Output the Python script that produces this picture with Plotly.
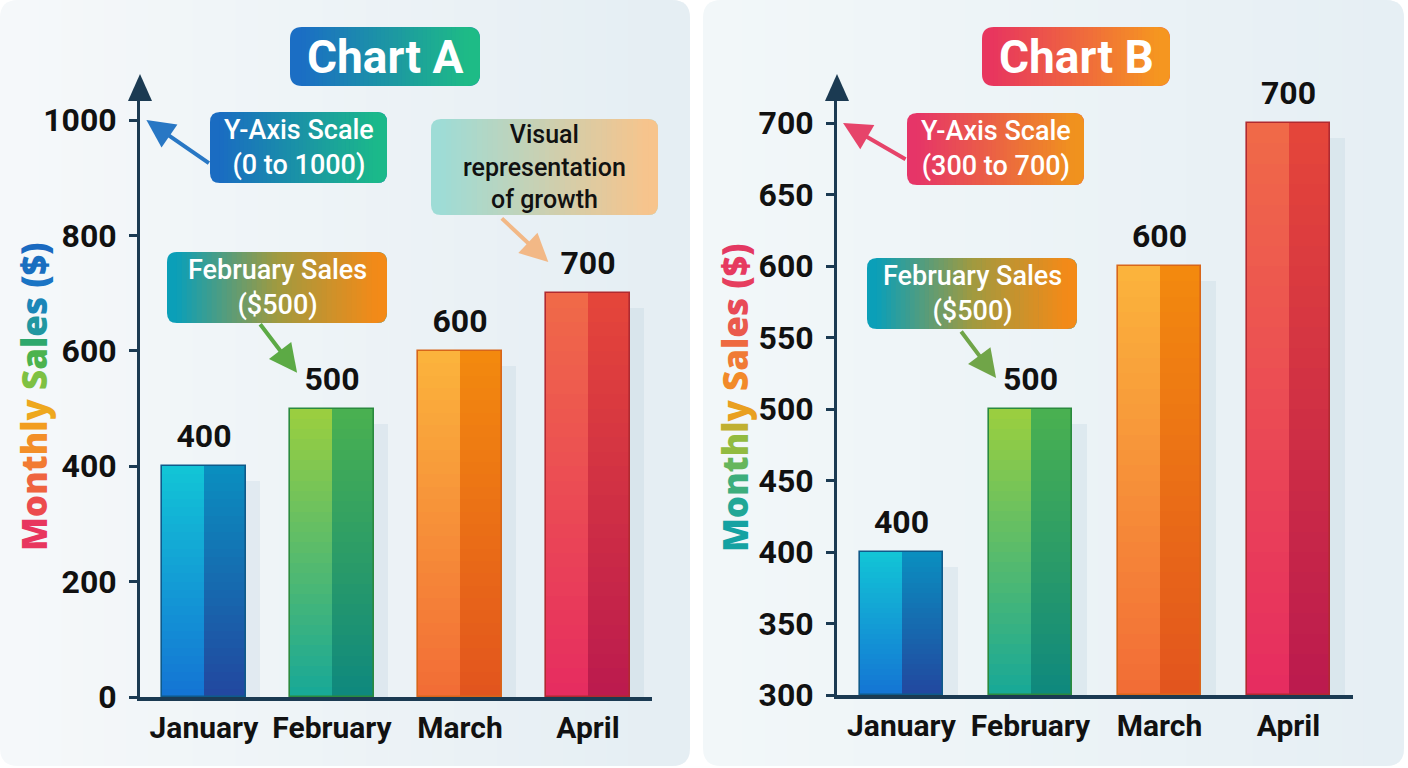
import plotly.graph_objects as go

# ---------------- data ----------------
months = ["January", "February", "March", "April"]
sales_a = [400, 500, 600, 700]
sales_b = [400, 500, 600, 700]
yticks_a = [0, 200, 400, 600, 800, 1000]
yticks_b = [300, 350, 400, 450, 500, 550, 600, 650, 700]

# bar colours (left lit half / right shaded half, top -> bottom)
left_top = ["#12c5d6", "#9ccf3e", "#fbb43c", "#f06a48"]
left_bot = ["#1474d4", "#17a898", "#f26c36", "#e62c60"]
right_top = ["#0a8fc0", "#4ab150", "#f38a0e", "#e5463a"]
right_bot = ["#22479f", "#0e887e", "#e2541e", "#bb1a4e"]
edge_col = ["#0f5a8a", "#2a8a3e", "#d8661a", "#b02a30"]

W, H = 1408, 768
FONT_NUM = "Roboto"


def X(px):
    return px / W


def Y(py):
    return 1 - py / H


def hex2rgb(h):
    h = h.lstrip("#")
    return tuple(int(h[i:i + 2], 16) for i in (0, 2, 4))


def mix(c1, c2, t):
    a, b = hex2rgb(c1), hex2rgb(c2)
    return "rgb(%d,%d,%d)" % tuple(round(a[i] + (b[i] - a[i]) * t) for i in range(3))


shapes = []
annotations = []


def rrect_path(x0, y0, x1, y1, r):
    rx, ry = r / W, r / H
    a, b, c, d = X(x0), Y(y0), X(x1), Y(y1)  # b top, d bottom
    return (f"M{a+rx},{b} L{c-rx},{b} Q{c},{b} {c},{b-ry} L{c},{d+ry} Q{c},{d} {c-rx},{d} "
            f"L{a+rx},{d} Q{a},{d} {a},{d+ry} L{a},{b-ry} Q{a},{b} {a+rx},{b} Z")


def gradbox(x0, y0, x1, y1, cl, cr, r=10, n=40, layer="above", cm=None):
    shapes.append(dict(type="path", path=rrect_path(x0, y0, x1, y1, r), xref="paper", yref="paper",
                       fillcolor=cl, line=dict(width=0), layer=layer))
    shapes.append(dict(type="path", path=rrect_path(x1 - 2 * r - 2, y0, x1, y1, r), xref="paper", yref="paper",
                       fillcolor=cr, line=dict(width=0), layer=layer))
    sx0, sx1 = x0 + r, x1 - r
    step = (sx1 - sx0) / n
    for i in range(n):
        t = (i + 0.5) / n
        if cm is None:
            col = mix(cl, cr, t)
        else:
            col = mix(cl, cm, t * 2) if t < 0.5 else mix(cm, cr, (t - 0.5) * 2)
        shapes.append(dict(type="rect", xref="paper", yref="paper",
                           x0=X(sx0 + i * step - 0.3), x1=X(sx0 + (i + 1) * step + 0.3),
                           y0=Y(y1), y1=Y(y0), fillcolor=col, line=dict(width=0), layer=layer))


def text_at(px, py, txt, font, angle=0):
    annotations.append(dict(x=X(px), y=Y(py), xref="paper", yref="paper", text=txt, showarrow=False,
                            xanchor="center", yanchor="middle", textangle=angle, font=font))


# panels
gradbox(0, 0, 690, 766, "#f5f8fa", "#e5eef3", r=18, n=30, layer="below")
gradbox(703, 0, 1404, 766, "#f2f7f9", "#e6eff4", r=18, n=30, layer="below")

# ---------------- traces ----------------
fig = go.Figure()
NS = 28
BW = 0.65
HALF = BW / 2


def add_bars(vals, b0, span, xa, ya):
    hs = [v - b0 for v in vals]
    # soft shadow
    fig.add_trace(go.Bar(x=months, y=[h - 0.025 * span for h in hs], base=[b0] * 4,
                         width=0.11, offset=HALF, marker=dict(color="rgba(140,175,200,0.14)", line=dict(width=0)),
                         xaxis=xa, yaxis=ya, showlegend=False, hoverinfo="skip"))
    for half, (tops, bots, off) in enumerate([(left_top, left_bot, -HALF), (right_top, right_bot, 0)]):
        for k in range(NS):
            t = (k + 0.5) / NS
            bases = [b0 + h * k / NS for h in hs]
            ys = [min(h / NS * 1.6, v - bb) for h, v, bb in zip(hs, vals, bases)]
            cols = [mix(bots[i], tops[i], t) for i in range(4)]
            fig.add_trace(go.Bar(x=months, y=ys, base=bases, width=HALF, offset=off,
                                 marker=dict(color=cols, line=dict(width=0)),
                                 xaxis=xa, yaxis=ya, showlegend=False, hoverinfo="skip"))
    # outline
    fig.add_trace(go.Bar(x=months, y=hs, base=[b0] * 4, width=BW, offset=-HALF,
                         marker=dict(color="rgba(0,0,0,0)", line=dict(color=edge_col, width=1.6)),
                         xaxis=xa, yaxis=ya, showlegend=False, hoverinfo="skip"))
    # value labels (invisible marker pads the text upward)
    fig.add_trace(go.Scatter(x=months, y=vals, mode="markers+text", text=[str(v) for v in vals],
                             textposition="top center", cliponaxis=False,
                             marker=dict(size=16, color="rgba(0,0,0,0)"),
                             textfont=dict(family=FONT_NUM, size=32, color="#111111", weight=700),
                             xaxis=xa, yaxis=ya, showlegend=False, hoverinfo="skip"))


add_bars(sales_a, 0, 1040, "x", "y")
add_bars(sales_b, 300, 418, "x2", "y2")

# ---------------- axes ----------------
AXC = "#1b3a52"
tickfont = dict(family=FONT_NUM, size=32, color="#111111", weight=700)
xfont = dict(family=FONT_NUM, size=30, color="#111111", weight=700)

xa_common = dict(type="category", categoryorder="array", categoryarray=months, range=[-0.5, 3.5],
                 showline=True, linecolor=AXC, linewidth=4, ticks="", showgrid=False, zeroline=False,
                 tickfont=xfont, ticklabelstandoff=1, fixedrange=True)
ya_common = dict(showline=True, linecolor=AXC, linewidth=3, ticks="outside", ticklen=8, tickwidth=3,
                 tickcolor=AXC, showgrid=False, zeroline=False, tickfont=tickfont, ticklabelstandoff=6)

fig.update_layout(
    xaxis=dict(domain=[X(140), X(652)], anchor="y", **xa_common),
    yaxis=dict(domain=[Y(697), Y(97)], anchor="x", range=[0, 1040], tickvals=yticks_a, **ya_common),
    xaxis2=dict(domain=[X(837), X(1353)], anchor="y2", **xa_common),
    yaxis2=dict(domain=[Y(695), Y(97)], anchor="x2", range=[300, 718.2], tickvals=yticks_b, **ya_common),
)

# axis-top arrowheads
for cx in (140, 837):
    shapes.append(dict(type="path", xref="paper", yref="paper",
                       path=f"M{X(cx)},{Y(74)} L{X(cx-12)},{Y(101)} L{X(cx+12)},{Y(101)} Z",
                       fillcolor=AXC, line=dict(width=0), layer="above"))

# title boxes
gradbox(290, 27, 480, 86, "#1b6ec4", "#1ebb86", r=12)
text_at(385, 57, "<b>Chart A</b>", dict(family="Roboto", size=46, color="white"))
gradbox(982, 27, 1170, 86, "#e8365e", "#f59620", r=12)
text_at(1076, 57, "<b>Chart B</b>", dict(family="Roboto", size=46, color="white"))


# y titles with per-letter colours
def colored(chars_cols):
    return "".join(f'<span style="color:{c}">{ch}</span>' for ch, c in chars_cols)


title_a = colored(list(zip("Monthly", ["#e8365e", "#ec4b4e", "#ef643f", "#f27b32", "#f38f28", "#f29d20", "#eea81e"]))) \
    + " " + colored(list(zip("Sales", ["#7ec142", "#4cb34e", "#2ea86c", "#2197a0", "#1b86b8"]))) \
    + " " + colored(list(zip("($)", ["#1a74c4", "#1a6fc0", "#1a6ac0"])))
title_b = colored(list(zip("Monthly", ["#15a2a2", "#22a796", "#3dae7c", "#66b65c", "#92bb40", "#c0b030", "#e9a020"]))) \
    + " " + colored(list(zip("Sales", ["#f28a2a", "#f07a36", "#ee6a40", "#ea5a4c", "#e84a56"]))) \
    + " " + colored(list(zip("($)", ["#e63e5e", "#e63a60", "#e33862"])))
yt_font = dict(family="Open Sans", size=35, weight=800)
text_at(33, 397, title_a, yt_font, angle=-90)
text_at(734, 398, title_b, yt_font, angle=-90)

# callout boxes
cfont = dict(family="Roboto", size=27, color="white", weight=500)
gradbox(210, 112, 387, 183, "#1a6cc2", "#1bb98a", r=10)
text_at(298.5, 147.5, "Y-Axis Scale<br>(0 to 1000)", cfont)
gradbox(431, 119, 658, 215, "#9edcd6", "#f7c48c", r=10)
text_at(544.5, 167, "Visual<br>representation<br>of growth", dict(family="Roboto", size=25, color="#111111", weight=500))
gradbox(167, 252, 387, 323, "#0b9fb8", "#f38a18", r=10, cm="#a09a40")
text_at(277, 287.5, "February Sales<br>($500)", cfont)
gradbox(907, 113, 1084, 185, "#e63568", "#f0921e", r=10)
text_at(995.5, 149, "Y-Axis Scale<br>(300 to 700)", cfont)
gradbox(867, 258, 1077, 329, "#0b9fb8", "#f38a18", r=10, cm="#a09a40")
text_at(972, 293.5, "February Sales<br>($500)", cfont)

# callout arrows (tips at data positions)
arrows = [
    ("x", "y", -0.45, 1000, 64, 44, "#2877c4"),
    ("x", "y", 0.727, 562, -38, -50, "#5caa45"),
    ("x", "y", 2.69, 754, -48, -45, "#f2b886"),
    ("x2", "y2", -0.453, 700, 64, 37, "#e6446a"),
    ("x2", "y2", 0.733, 521.7, -36, -48, "#70a548"),
]
for xr, yr, ax_, ay_, dx, dy, col in arrows:
    annotations.append(dict(x=ax_, y=ay_, xref=xr, yref=yr, ax=dx, ay=dy, text="", showarrow=True,
                            arrowhead=2, arrowsize=1.4, arrowwidth=4, arrowcolor=col))

fig.update_layout(
    width=W, height=H, margin=dict(l=0, r=0, t=0, b=0, autoexpand=False),
    paper_bgcolor="#ffffff", plot_bgcolor="rgba(0,0,0,0)",
    barmode="overlay", bargap=0, showlegend=False,
    shapes=shapes, annotations=annotations,
    font=dict(family="Roboto", color="#111111"),
)

fig.write_html("out.html", include_plotlyjs=True,
               config=dict(displayModeBar=False, responsive=False),
               post_script="document.body.style.margin='0px';document.body.style.overflow='hidden';")
